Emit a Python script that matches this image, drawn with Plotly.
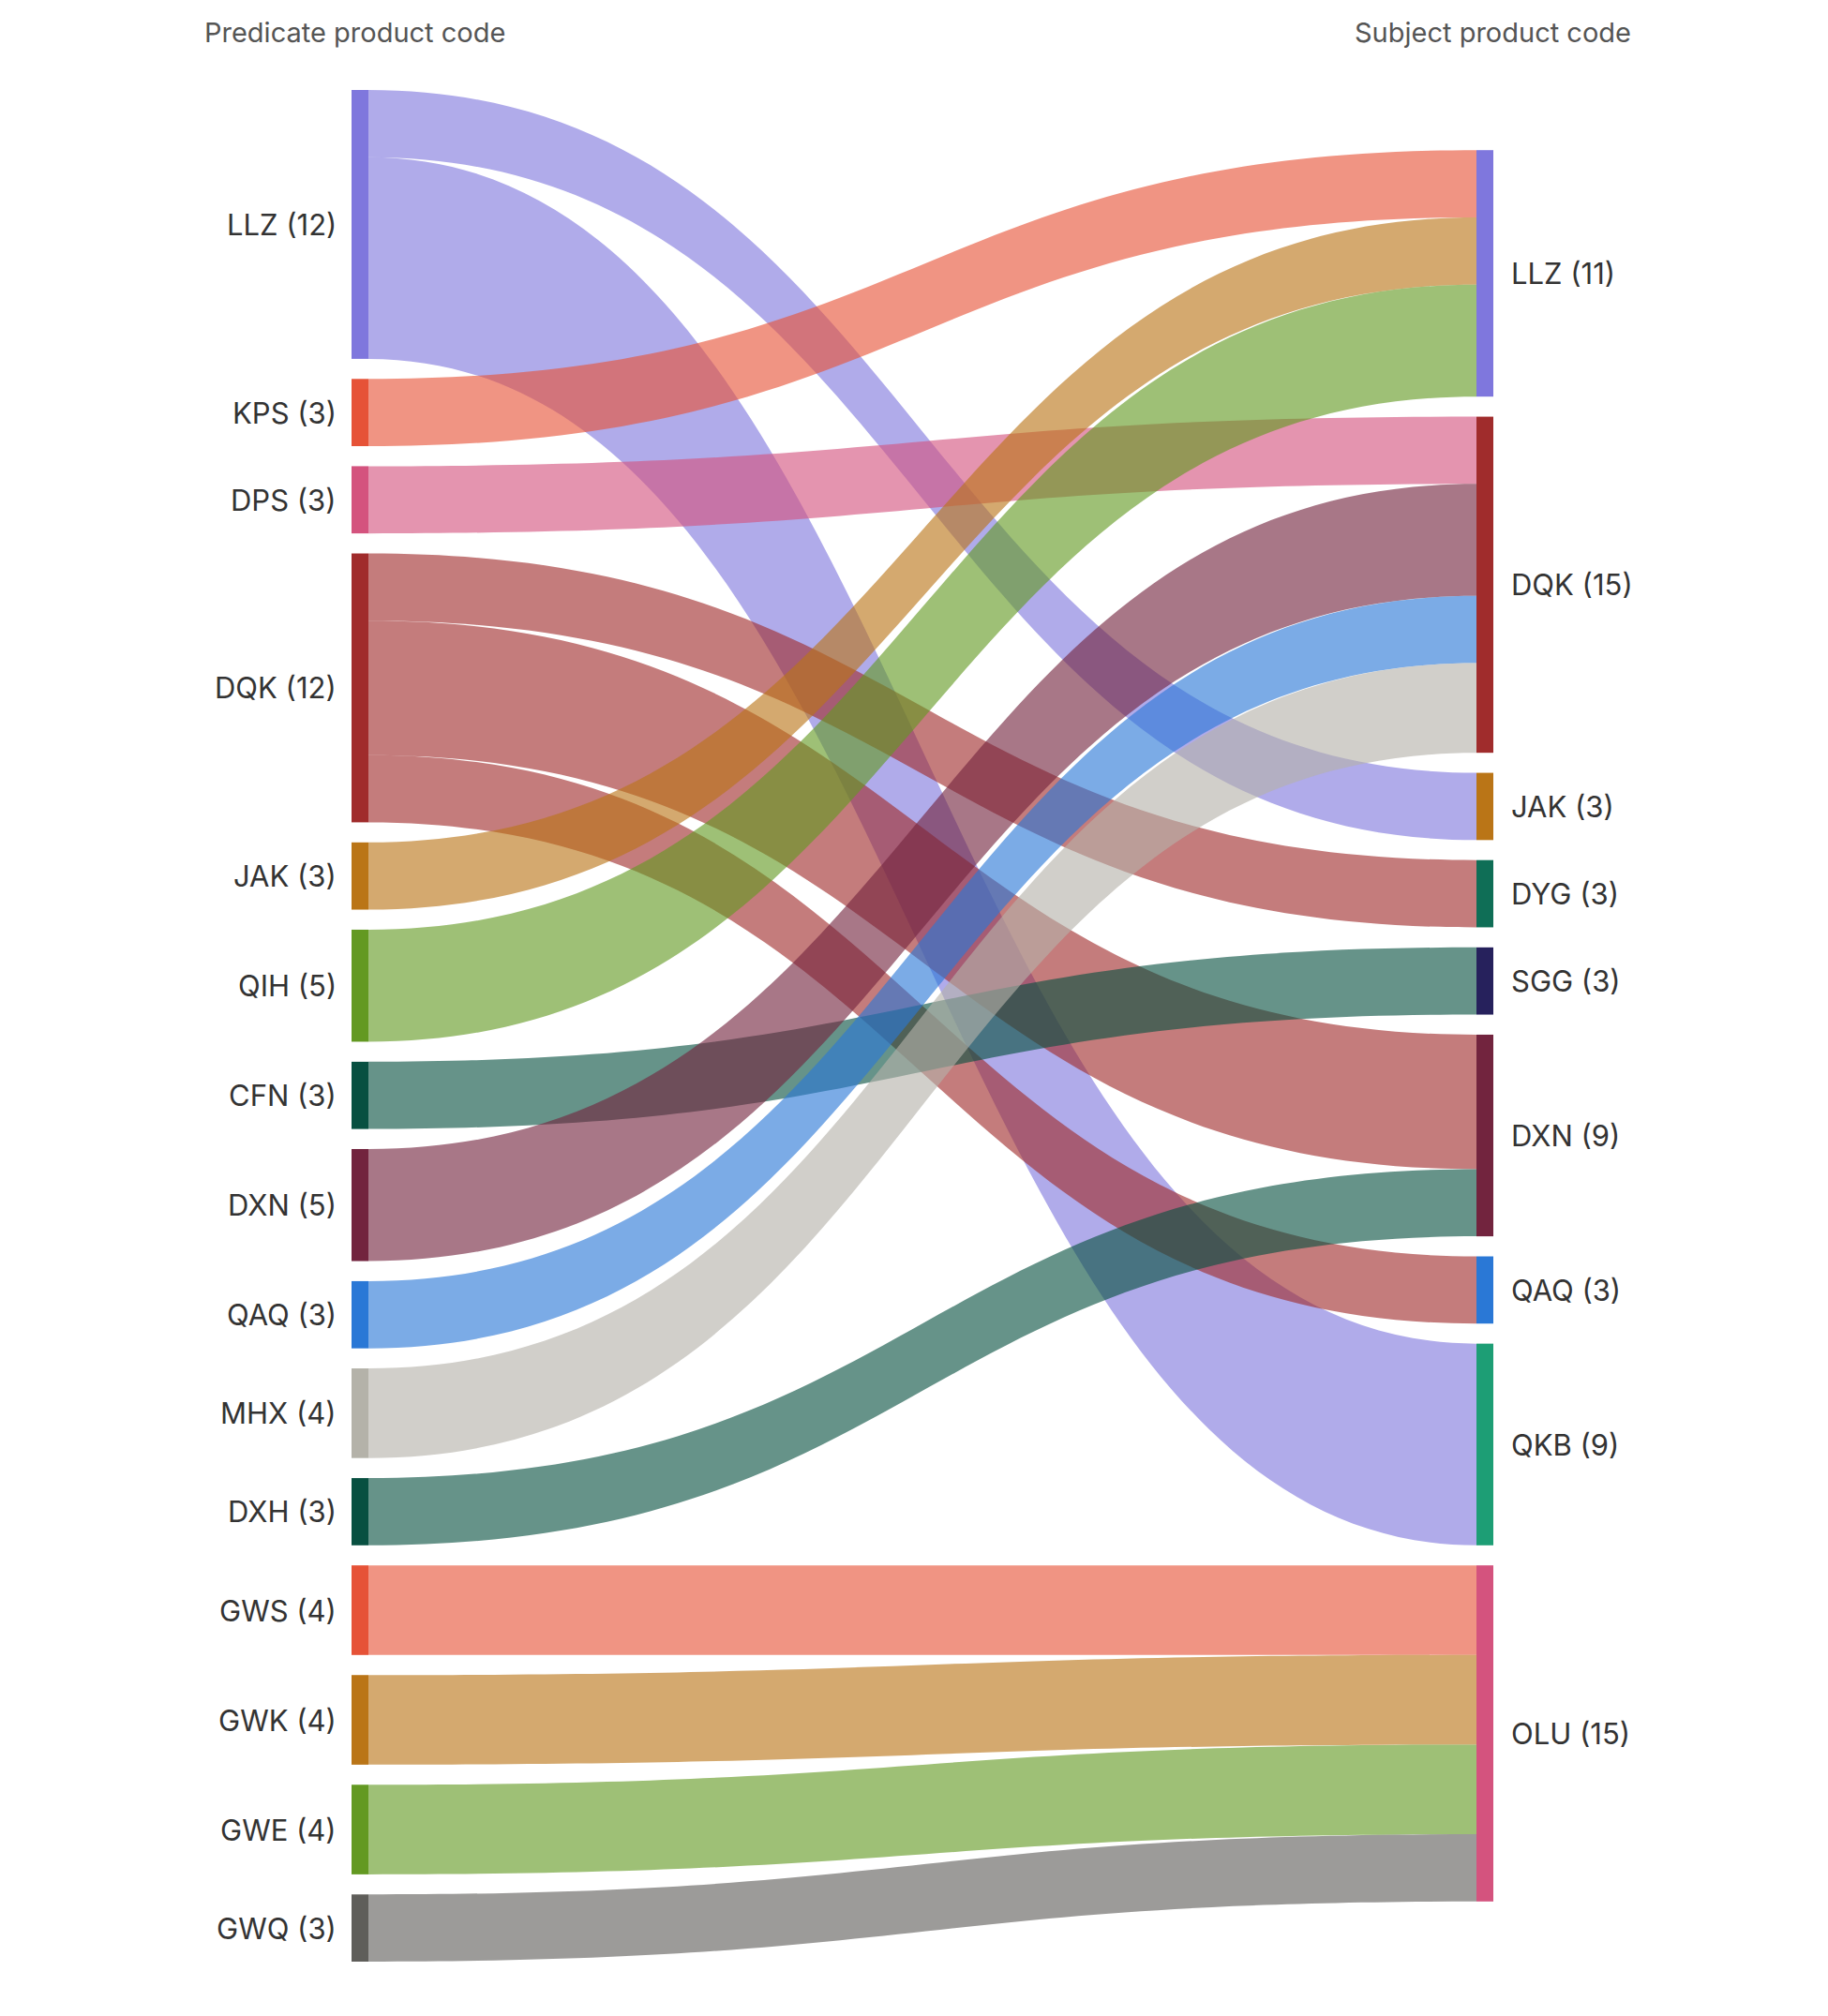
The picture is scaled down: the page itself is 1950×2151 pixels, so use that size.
import plotly.graph_objects as go

# --- data ---
left_codes = ["LLZ", "KPS", "DPS", "DQK", "JAK", "QIH", "CFN", "DXN",
              "QAQ", "MHX", "DXH", "GWS", "GWK", "GWE", "GWQ"]
right_codes = ["LLZ", "DQK", "JAK", "DYG", "SGG", "DXN", "QAQ", "QKB", "OLU"]

left_colors = ["#7F77DD", "#E65237", "#D4537E", "#A02C2C", "#BA7517",
               "#639922", "#085041", "#72243E", "#2A78D6", "#B4B2A9",
               "#085041", "#E65237", "#BA7517", "#639922", "#5F5E5A"]
right_colors = ["#7F77DD", "#A02C2C", "#BA7517", "#0F6E56", "#26215C",
                "#72243E", "#2A78D6", "#1D9E75", "#D4537E"]

link_src = ["LLZ", "LLZ", "KPS", "DPS", "DQK", "DQK", "DQK", "JAK", "QIH",
            "CFN", "DXN", "QAQ", "MHX", "DXH", "GWS", "GWK", "GWE", "GWQ"]
link_dst = ["JAK", "QKB", "LLZ", "DQK", "DYG", "DXN", "QAQ", "LLZ", "LLZ",
            "SGG", "DQK", "DQK", "DQK", "DXN", "OLU", "OLU", "OLU", "OLU"]
link_val = [3, 9, 3, 3, 3, 6, 3, 3, 5, 3, 5, 3, 4, 3, 4, 4, 4, 3]

# --- layout (pixels) ---
FIG_W, FIG_H = 1934, 2130
TOP, BOTTOM = 88, 45
NODE_PAD = 21.4
NODE_W = 18
X_LEFT, X_RIGHT = 376, 1576   # column centres
LINK_ALPHA = 0.62
FONT = "Inter, 'Open Sans', sans-serif"
HEADER_RISE = 62              # header centre above the plot top

plot_h = FIG_H - TOP - BOTTOM
n_left = len(left_codes)

src_idx = [left_codes.index(s) for s in link_src]
dst_idx = [n_left + right_codes.index(t) for t in link_dst]

left_tot = [sum(v for s, v in zip(link_src, link_val) if s == c) for c in left_codes]
right_tot = [sum(v for t, v in zip(link_dst, link_val) if t == c) for c in right_codes]

# same scale as plotly/d3-sankey: tallest column fills the height
total = sum(link_val)
ky = (plot_h - (max(len(left_codes), len(right_codes)) - 1) * NODE_PAD) / total


def centres(tots):
    # stack nodes top-down, column centred vertically
    span = sum(tots) * ky + (len(tots) - 1) * NODE_PAD
    y = (plot_h - span) / 2
    out = []
    for t in tots:
        h = t * ky
        out.append(y + h / 2)
        y += h + NODE_PAD
    return out


left_c = centres(left_tot)
right_c = centres(right_tot)


def rgba(hex_col, a):
    h = hex_col.lstrip("#")
    r, g, b = int(h[0:2], 16), int(h[2:4], 16), int(h[4:6], 16)
    return f"rgba({r},{g},{b},{a})"


labels = [f"{c} ({t})" for c, t in zip(left_codes, left_tot)] + \
         [f"{c} ({t})" for c, t in zip(right_codes, right_tot)]
node_colors = left_colors + right_colors
node_x = [X_LEFT / FIG_W] * n_left + [X_RIGHT / FIG_W] * len(right_codes)
node_y = [c / plot_h for c in left_c] + [c / plot_h for c in right_c]
link_colors = [rgba(left_colors[i], LINK_ALPHA) for i in src_idx]

fig = go.Figure(go.Sankey(
    arrangement="fixed",
    domain=dict(x=[0, 1], y=[0, 1]),
    textfont=dict(color="rgba(0,0,0,0)", size=1),
    node=dict(
        label=labels,
        color=node_colors,
        x=node_x,
        y=node_y,
        pad=NODE_PAD,
        thickness=NODE_W,
        line=dict(width=0),
    ),
    link=dict(
        source=src_idx,
        target=dst_idx,
        value=link_val,
        color=link_colors,
        line=dict(width=0),
    ),
))

# node labels: left column on the left, right column on the right
annotations = []
for lab, c in zip(labels[:n_left], left_c):
    annotations.append(dict(
        x=(X_LEFT - NODE_W / 2 - 14) / FIG_W, y=1 - c / plot_h,
        xref="paper", yref="paper", xanchor="right", yanchor="middle",
        text=lab, showarrow=False, font=dict(size=31, color="#333333", family=FONT)))
for lab, c in zip(labels[n_left:], right_c):
    annotations.append(dict(
        x=(X_RIGHT + NODE_W / 2 + 17) / FIG_W, y=1 - c / plot_h,
        xref="paper", yref="paper", xanchor="left", yanchor="middle",
        text=lab, showarrow=False, font=dict(size=31, color="#333333", family=FONT)))

# column headers
annotations.append(dict(
    x=208 / FIG_W, y=1 + HEADER_RISE / plot_h, xref="paper", yref="paper",
    xanchor="left", yanchor="middle", text="Predicate product code", showarrow=False,
    font=dict(size=29, color="#555555", family=FONT)))
annotations.append(dict(
    x=1734 / FIG_W, y=1 + HEADER_RISE / plot_h, xref="paper", yref="paper",
    xanchor="right", yanchor="middle", text="Subject product code", showarrow=False,
    font=dict(size=29, color="#555555", family=FONT)))

fig.update_layout(
    width=FIG_W, height=FIG_H,
    margin=dict(l=0, r=0, t=TOP, b=BOTTOM),
    paper_bgcolor="white",
    plot_bgcolor="white",
    annotations=annotations,
    font=dict(family=FONT),
)

fig.write_html("out.html")
